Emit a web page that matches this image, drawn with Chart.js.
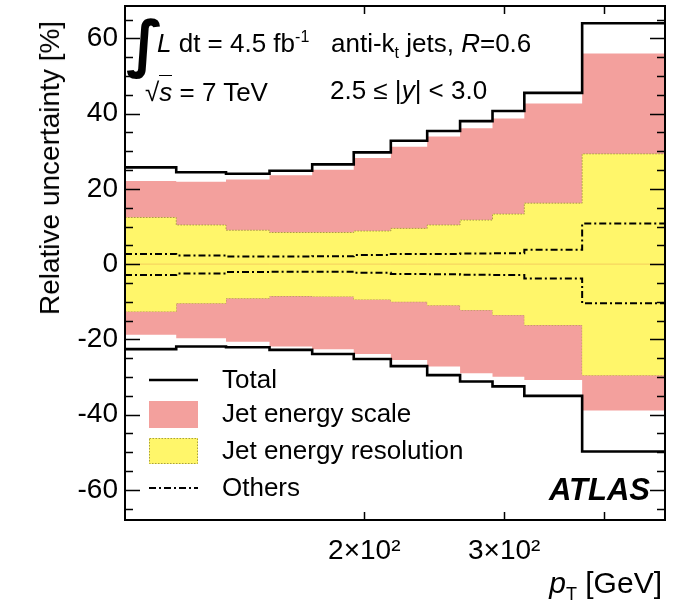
<!DOCTYPE html>
<html>
<head>
<meta charset="utf-8">
<script src="https://cdn.jsdelivr.net/npm/chart.js@4.4.0/dist/chart.umd.min.js"></script>
<style>
    html, body { margin: 0; padding: 0; background: #fff; }
    #wrap { position: relative; width: 676px; height: 605px; font-family: "Liberation Sans", Arial, sans-serif; color: #000; }
    #wrap canvas { position: absolute; left: 0; top: 0; }
    .note { position: absolute; white-space: nowrap; line-height: 1; font-size: 26px; }
    .note sup, .note sub { font-size: 16px; line-height: 0; }
    .over { border-top: 1.5px solid #000; padding-top: 1px; }
</style>
</head>
<body>
<div id="wrap">
    <canvas id="uncChart" width="676" height="605"></canvas>
    <div class="note" style="left:126px; top:13px; font-size:62px; font-family:'DejaVu Sans'; font-weight:bold;">&int;</div>
    <div class="note" style="left:157px; top:30px;"><i>L</i> dt = 4.5 fb<sup>-1</sup></div>
    <div class="note" style="left:331px; top:30px;">anti-k<sub>t</sub> jets, <i>R</i>=0.6</div>
    <div class="note" style="left:145px; top:79px;">&radic;<i class="over">s</i> = 7 TeV</div>
    <div class="note" style="left:330px; top:77px;">2.5 &le; |<i>y</i>| &lt; 3.0</div>
    <div class="note" style="right:26px; top:474px; font-size:31px; font-weight:bold; font-style:italic;">ATLAS</div>
    <div class="note" style="right:14px; top:568px; font-size:30px;"><i>p</i><sub style="font-size:18px;">T</sub> [GeV]</div>
    <div class="note" style="left:50px; top:168px; font-size:28px; transform:translate(-50%,-50%) rotate(-90deg);">Relative uncertainty [%]</div>
</div>
<script>
// pT bin edges [GeV] and relative uncertainties [%] per bin
var binEdges = [100, 116, 134, 152, 172, 194, 216, 240, 264, 290, 318, 376, 478];

var totalUp = [25.7, 24.4, 24.0, 24.8, 26.5, 29.7, 32.8, 35.4, 38.0, 40.7, 45.5, 64.0];
var totalDown = [-22.6, -21.9, -22.1, -22.8, -23.9, -25.2, -27.1, -29.5, -31.2, -32.5, -35.0, -49.8];
var jesUp = [22.1, 21.9, 22.5, 23.6, 25.1, 28.2, 31.2, 33.9, 36.1, 38.7, 42.7, 56.0];
var jesDown = [-18.8, -19.7, -20.6, -21.9, -22.6, -23.9, -25.5, -27.2, -29.0, -29.9, -30.8, -38.9];
var jerUp = [12.4, 10.4, 9.0, 8.4, 8.4, 8.8, 9.5, 10.4, 11.7, 13.3, 16.2, 29.3];
var jerDown = [-12.6, -10.4, -9.1, -8.5, -8.6, -9.4, -10.0, -10.9, -12.2, -13.5, -16.2, -29.5];
var othersUp = [2.7, 2.3, 2.0, 2.0, 2.1, 2.4, 2.7, 2.7, 2.8, 2.9, 3.8, 10.8];
var othersDown = [-2.9, -2.5, -2.1, -2.0, -2.0, -2.3, -2.6, -2.7, -2.8, -2.9, -3.8, -10.4];

var xTicks = [200, 300, 400];
var xTickLabels = ["2\u00d710\u00b2", "3\u00d710\u00b2", ""];
var yTicks = [-60, -40, -20, 0, 20, 40, 60];
var yMinorStep = 5;

var legendItems = ["Total", "Jet energy scale", "Jet energy resolution", "Others"];

var PINK = "#f3a09d";
var YELLOW = "#fff66a";
var JER_EDGE = "#a8a040";
var OTHERS_DASH = [7, 3, 2, 3];

// histogram outline: one point per low edge, plus the last edge
function histPoints(values) {
    var pts = [];
    for (var i = 0; i < values.length; i++) {
        pts.push({ x: binEdges[i], y: values[i] });
    }
    pts.push({ x: binEdges[binEdges.length - 1], y: values[values.length - 1] });
    return pts;
}

function histLine(values, color, width, dash, fill, bg) {
    return {
        data: histPoints(values),
        borderColor: color,
        borderWidth: width,
        borderDash: dash || [],
        backgroundColor: bg || "transparent",
        fill: fill,
        stepped: true,
        pointRadius: 0,
        tension: 0,
    };
}

var insideTicks = {
    id: "insideTicks",
    afterDatasetsDraw: function (chart) {
        var ctx = chart.ctx;
        var area = chart.chartArea;
        var xs = chart.scales.x;
        var ys = chart.scales.y;
        ctx.save();
        ctx.strokeStyle = "#000";
        ctx.lineWidth = 1.5;
        ctx.beginPath();
        var ymin = Math.ceil(ys.min / yMinorStep) * yMinorStep;
        for (var v = ymin; v <= ys.max; v += yMinorStep) {
            var py = Math.round(ys.getPixelForValue(v)) + 0.5;
            var len = yTicks.indexOf(v) >= 0 ? 15 : 8;
            ctx.moveTo(area.left, py);
            ctx.lineTo(area.left + len, py);
            ctx.moveTo(area.right, py);
            ctx.lineTo(area.right - len, py);
        }
        xTicks.forEach(function (t) {
            var px = Math.round(xs.getPixelForValue(t)) + 0.5;
            ctx.moveTo(px, area.bottom);
            ctx.lineTo(px, area.bottom - 8);
            ctx.moveTo(px, area.top);
            ctx.lineTo(px, area.top + 8);
        });
        ctx.stroke();

        // frame
        ctx.lineWidth = 2;
        ctx.strokeRect(area.left, area.top, area.right - area.left, area.bottom - area.top);

        // legend
        var lx0 = 149, lx1 = 198, tx = 222;
        var rows = [380, 414, 451, 488];
        ctx.font = "26px 'Liberation Sans', Arial, sans-serif";
        ctx.fillStyle = "#000";
        ctx.textBaseline = "middle";
        legendItems.forEach(function (label, i) {
            ctx.fillText(label, tx, rows[i] + 1);
        });

        ctx.beginPath();
        ctx.lineWidth = 2.6;
        ctx.moveTo(lx0, rows[0]);
        ctx.lineTo(lx1, rows[0]);
        ctx.stroke();

        ctx.fillStyle = PINK;
        ctx.fillRect(lx0, rows[1] - 13, lx1 - lx0, 27);

        ctx.fillStyle = YELLOW;
        ctx.fillRect(lx0, rows[2] - 13, lx1 - lx0, 26);
        ctx.strokeStyle = JER_EDGE;
        ctx.lineWidth = 1;
        ctx.setLineDash([1.5, 1.5]);
        ctx.strokeRect(lx0 + 0.5, rows[2] - 12.5, lx1 - lx0 - 1, 25);

        ctx.strokeStyle = "#000";
        ctx.lineWidth = 2;
        ctx.setLineDash(OTHERS_DASH);
        ctx.beginPath();
        ctx.moveTo(lx0, rows[3]);
        ctx.lineTo(lx1, rows[3]);
        ctx.stroke();
        ctx.restore();
    },
};

new Chart(document.getElementById("uncChart"), {
    type: "line",
    data: {
        datasets: [
            histLine(totalUp, "#000", 2.6, null, false),
            histLine(totalDown, "#000", 2.6, null, false),
            histLine(othersUp, "#000", 2, OTHERS_DASH, false),
            histLine(othersDown, "#000", 2, OTHERS_DASH, false),
            histLine([0, 0, 0, 0, 0, 0, 0, 0, 0, 0, 0, 0], "rgba(240,190,90,0.7)", 1, null, false),
            histLine(jerUp, JER_EDGE, 1, [1.5, 1.5], 6, YELLOW),
            histLine(jerDown, JER_EDGE, 1, [1.5, 1.5], false),
            histLine(jesUp, "transparent", 0, null, 8, PINK),
            histLine(jesDown, "transparent", 0, null, false),
        ],
    },
    options: {
        responsive: false,
        animation: false,
        devicePixelRatio: 1,
        layout: { padding: { top: 6, right: 11, left: 0, bottom: 0 } },
        plugins: {
            legend: { display: false },
            tooltip: { enabled: false },
        },
        scales: {
            x: {
                type: "logarithmic",
                min: binEdges[0],
                max: binEdges[binEdges.length - 1],
                grid: { display: false, drawTicks: false },
                border: { display: false },
                afterBuildTicks: function (scale) {
                    scale.ticks = xTicks.map(function (v) { return { value: v }; });
                },
                afterFit: function (scale) {
                    scale.height = 85;
                    scale.paddingLeft = 0;
                    scale.paddingRight = 0;
                },
                ticks: {
                    autoSkip: false,
                    maxRotation: 0,
                    padding: 14,
                    color: "#000",
                    font: { family: "'Liberation Sans', Arial, sans-serif", size: 28 },
                    callback: function (value) {
                        var i = xTicks.indexOf(value);
                        return i >= 0 ? xTickLabels[i] : "";
                    },
                },
            },
            y: {
                min: -68,
                max: 68.6,
                grid: { display: false, drawTicks: false },
                border: { display: false },
                afterBuildTicks: function (scale) {
                    scale.ticks = yTicks.map(function (v) { return { value: v }; });
                },
                afterFit: function (scale) {
                    scale.width = 125;
                    scale.paddingTop = 0;
                    scale.paddingBottom = 0;
                },
                ticks: {
                    padding: 7,
                    color: "#000",
                    font: { family: "'Liberation Sans', Arial, sans-serif", size: 28 },
                },
            },
        },
    },
    plugins: [insideTicks],
});
</script>
</body>
</html>
